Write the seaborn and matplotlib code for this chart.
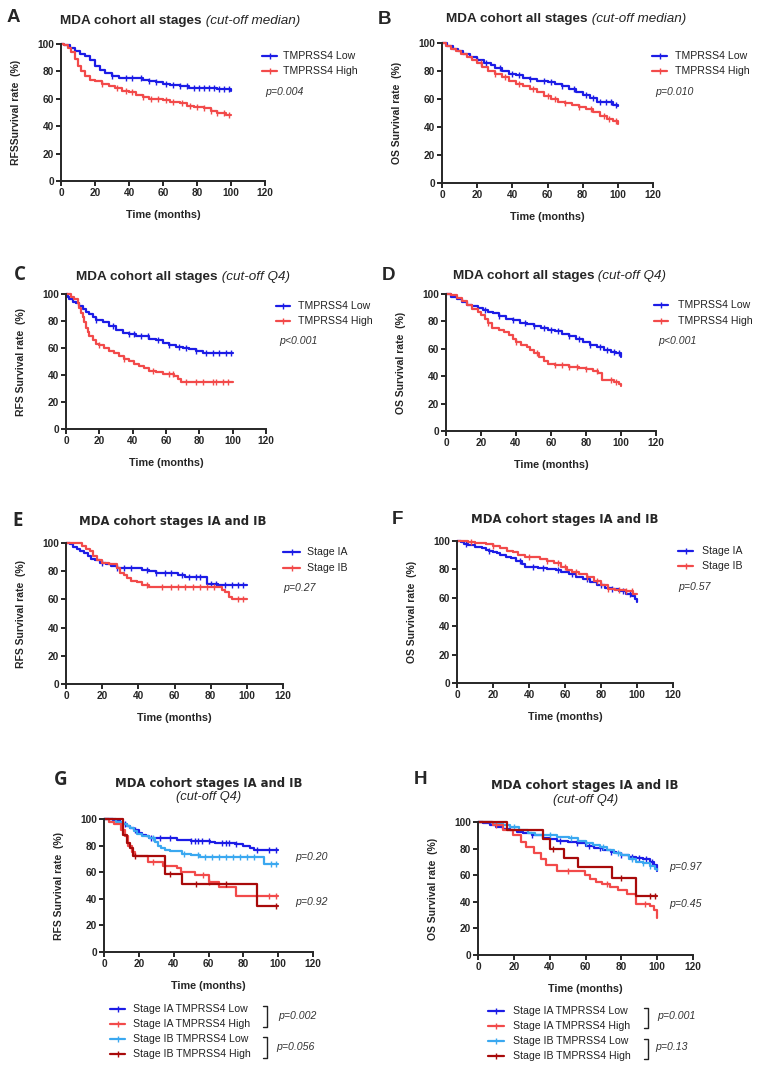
import numpy as np
import matplotlib
matplotlib.use('Agg')
import matplotlib.pyplot as plt
import seaborn as sns
from matplotlib.lines import Line2D

sns.set_style('ticks')
plt.rcParams['font.family'] = ['Liberation Sans', 'DejaVu Sans']

W, H = 759, 1070
BLUE = '#1c1ce6'
RED = '#f24a4a'
LBLUE = '#3aa8f0'
DRED = '#a80a0a'

XTICKS = [0, 20, 40, 60, 80, 100, 120]
YTICKS = [0, 20, 40, 60, 80, 100]

# ---- A: RFS, all stages, cut-off median ----
A_low_t = [0, 2, 5, 8, 11, 14, 17, 20, 23, 26, 30, 34, 48, 52, 56, 60, 64, 70, 75, 90, 92, 100]
A_low_s = [100, 99, 97, 95, 93, 91, 88, 84, 81, 79, 77, 75, 74, 73, 72, 71, 70, 69, 68, 68, 67, 66]
A_low_c = [30, 38, 42, 47, 52, 56, 62, 66, 70, 74, 78, 81, 84, 87, 90, 93, 96, 99]
A_high_t = [0, 2, 4, 6, 8, 10, 12, 14, 17, 20, 24, 28, 32, 36, 40, 44, 48, 52, 60, 64, 70, 74, 78, 84, 88, 92, 97, 100]
A_high_s = [100, 99, 97, 94, 89, 84, 80, 77, 74, 73, 71, 69, 68, 66, 65, 63, 61, 60, 59, 58, 57, 55, 54, 53, 51, 50, 48, 48]
A_high_c = [24, 33, 38, 42, 48, 53, 57, 62, 66, 71, 76, 80, 84, 88, 92, 96, 99]

# ---- B: OS, all stages, cut-off median ----
B_low_t = [0, 3, 6, 9, 12, 16, 20, 24, 28, 30, 34, 38, 42, 46, 50, 54, 60, 64, 68, 72, 76, 80, 84, 88, 94, 97, 100]
B_low_s = [100, 98, 96, 94, 92, 90, 88, 86, 84, 82, 80, 78, 77, 75, 74, 73, 72, 71, 69, 67, 65, 63, 61, 58, 58, 56, 55]
B_low_c = [20, 25, 33, 40, 44, 50, 58, 62, 68, 75, 82, 86, 90, 93, 96, 99]
B_high_t = [0, 2, 5, 8, 11, 14, 17, 20, 23, 26, 30, 34, 38, 42, 46, 50, 54, 58, 62, 66, 70, 74, 78, 82, 86, 90, 94, 97, 100]
B_high_s = [100, 98, 96, 94, 92, 90, 88, 86, 83, 80, 78, 76, 73, 71, 69, 67, 65, 62, 60, 58, 57, 56, 54, 53, 51, 48, 46, 44, 42]
B_high_c = [22, 30, 36, 44, 52, 60, 64, 70, 78, 85, 92, 95, 99]

# ---- C: RFS, all stages, cut-off Q4 ----
C_low_t = [0, 1, 2, 4, 6, 8, 10, 12, 14, 16, 18, 22, 26, 30, 34, 38, 42, 50, 54, 58, 62, 66, 70, 74, 78, 82, 100]
C_low_s = [100, 98, 96, 94, 93, 91, 89, 87, 85, 83, 81, 79, 76, 73, 71, 70, 69, 67, 66, 64, 62, 61, 60, 59, 58, 56, 56]
C_low_c = [18, 28, 38, 41, 45, 49, 55, 62, 68, 72, 78, 84, 88, 92, 96, 99]
C_high_t = [0, 3, 5, 7, 8, 9, 10, 11, 12, 13, 14, 16, 18, 20, 23, 26, 29, 32, 35, 38, 41, 44, 47, 50, 54, 58, 65, 67, 69, 100]
C_high_s = [100, 98, 96, 93, 90, 86, 83, 79, 75, 72, 69, 66, 63, 62, 60, 58, 56, 54, 52, 50, 48, 47, 45, 43, 42, 41, 39, 37, 35, 35]
C_high_c = [20, 35, 52, 62, 64, 72, 78, 82, 88, 90, 94, 97]

# ---- D: OS, all stages, cut-off Q4 ----
D_low_t = [0, 3, 6, 9, 12, 15, 18, 21, 24, 27, 30, 34, 38, 42, 46, 50, 54, 58, 62, 66, 70, 74, 78, 82, 86, 90, 94, 97, 100]
D_low_s = [100, 98, 96, 94, 92, 91, 90, 88, 87, 86, 84, 82, 81, 79, 78, 77, 75, 74, 73, 71, 69, 67, 65, 63, 61, 59, 58, 57, 54]
D_low_c = [22, 30, 38, 45, 50, 56, 60, 64, 70, 76, 82, 88, 92, 96, 99]
D_high_t = [0, 3, 6, 9, 12, 15, 18, 20, 22, 24, 26, 30, 33, 36, 38, 40, 43, 46, 48, 50, 53, 56, 58, 62, 70, 76, 80, 84, 87, 89, 96, 99, 100]
D_high_s = [100, 99, 97, 95, 92, 89, 87, 85, 82, 79, 75, 74, 72, 70, 67, 65, 63, 61, 59, 57, 54, 51, 49, 48, 47, 46, 45, 44, 42, 37, 36, 34, 33]
D_high_c = [24, 40, 52, 62, 66, 70, 75, 80, 86, 94, 97]

# ---- E: RFS, stages IA and IB ----
E_ia_t = [0, 2, 4, 6, 8, 10, 12, 14, 16, 19, 22, 25, 28, 42, 46, 50, 62, 66, 78, 84, 100]
E_ia_s = [100, 99, 97, 96, 94, 93, 91, 89, 88, 86, 85, 84, 82, 81, 80, 79, 77, 76, 71, 70, 70]
E_ia_c = [20, 28, 32, 36, 45, 50, 55, 58, 64, 68, 72, 74, 80, 83, 88, 92, 95, 98]
E_ib_t = [0, 9, 11, 13, 15, 17, 20, 24, 28, 30, 32, 34, 36, 39, 42, 46, 55, 86, 88, 90, 92, 100]
E_ib_s = [100, 98, 96, 94, 91, 88, 86, 85, 82, 79, 77, 75, 73, 72, 70, 69, 68.5, 67, 65, 62, 60, 60]
E_ib_c = [45, 53, 58, 62, 66, 70, 74, 78, 82, 95, 98]

# ---- F: OS, stages IA and IB ----
F_ia_t = [0, 2, 4, 6, 8, 10, 12, 14, 16, 18, 20, 22, 24, 27, 30, 33, 36, 38, 45, 50, 55, 58, 62, 66, 70, 74, 78, 82, 86, 90, 94, 97, 99, 100]
F_ia_s = [100, 99, 98, 97.5, 97, 96, 95.5, 95, 94, 93, 92.5, 91.5, 90, 89, 88, 86, 84, 82, 81, 80, 79.5, 78, 77, 75, 73, 71, 69, 67, 66, 65, 63, 61, 59, 57]
F_ia_c = [5, 18, 35, 42, 48, 56, 64, 72, 80, 86, 92, 96]
F_ib_t = [0, 6, 10, 16, 20, 24, 28, 31, 34, 38, 46, 50, 54, 58, 61, 64, 68, 72, 76, 80, 84, 88, 94, 98, 100]
F_ib_s = [100, 99.5, 98.5, 98, 96.5, 95, 93, 92, 90, 88.5, 87.5, 86, 84.5, 82, 79.5, 78.5, 76.5, 74.5, 71.5, 69, 66.5, 65.5, 64.5, 63, 63]
F_ib_c = [8, 20, 40, 50, 56, 60, 66, 72, 78, 84, 90, 94, 97]

# ---- G: RFS, stages IA and IB, cut-off Q4 ----
G_ia_low_t = [0, 5, 9, 11, 13, 15, 17, 20, 22, 24, 26, 30, 42, 50, 61, 64, 75, 80, 84, 86, 100]
G_ia_low_s = [100, 99, 97, 96, 94.5, 93, 91.5, 89.5, 88, 87, 86, 85.5, 84, 83.5, 83, 82, 81, 79.5, 78, 76.5, 76.5]
G_ia_low_c = [12, 18, 27, 32, 38, 50, 52, 54, 56, 60, 68, 70, 72, 76, 88, 95, 99]
G_ia_high_t = [0, 3, 6, 10, 12, 14, 16, 18, 25, 34, 42, 44, 52, 60, 66, 76, 100]
G_ia_high_s = [100, 98, 96.5, 92, 87, 80, 75, 72.5, 68, 65, 63, 60, 58, 53, 49, 42, 42]
G_ia_high_c = [28, 57, 60, 95, 99]
G_ib_low_t = [0, 7, 11, 13, 15, 17, 19, 22, 26, 29, 31, 33, 35, 38, 45, 50, 55, 92, 100]
G_ib_low_s = [100, 98, 96.5, 95, 93, 91, 89, 87.5, 86, 83, 80, 78, 77, 76, 74, 73, 71.5, 66, 66]
G_ib_low_c = [28, 46, 54, 58, 62, 66, 70, 74, 78, 82, 86, 96, 99]
G_ib_high_t = [0, 11, 13, 15, 16.5, 35, 45, 88, 100]
G_ib_high_s = [100, 88, 82, 78, 72.5, 59, 51, 34.5, 34.5]
G_ib_high_c = [18, 38, 53, 70, 99]

# ---- H: OS, stages IA and IB, cut-off Q4 ----
H_ia_low_t = [0, 3, 6.5, 10, 14, 18, 22, 25, 30, 36, 40, 44, 50, 55, 60, 65, 70, 74, 77, 80, 84, 88, 92, 96, 98, 100]
H_ia_low_s = [100, 99, 98, 96.5, 95, 94, 92.5, 91.5, 90, 88, 87, 85.5, 85, 84, 82, 80.5, 79, 77.5, 76.5, 75.5, 74, 73, 72, 70, 68, 63]
H_ia_low_c = [30, 46, 55, 62, 68, 74, 80, 86, 90, 94, 97]
H_ia_high_t = [0, 8.5, 14, 19.5, 24, 27, 31, 35, 38, 44, 59.5, 62.5, 66, 69, 73.5, 78, 83, 88, 96, 98, 100]
H_ia_high_s = [100, 98, 94, 90.5, 85, 81.5, 76.5, 72, 67.5, 63, 60, 57.5, 55, 53.5, 51, 48.5, 46, 38.5, 37, 33.5, 28]
H_ia_high_c = [10, 50, 72, 93]
H_ib_low_t = [0, 8, 14, 18, 23, 28, 32, 38, 44, 51, 56, 60, 64, 68, 72, 76, 80, 84, 88, 92, 96, 99, 100]
H_ib_low_s = [100, 99, 98, 96, 94, 92, 90.5, 90, 89, 88, 86, 84, 83, 81, 79, 77, 75, 72, 70, 69, 67, 65, 64]
H_ib_low_c = [20, 40, 52, 60, 70, 78, 86, 92, 96]
H_ib_high_t = [0, 16, 36, 40, 48, 56, 75, 88, 100]
H_ib_high_s = [100, 94, 87, 80, 73, 66, 58, 44, 44]
H_ib_high_c = [42, 80, 96, 99]

fig = plt.figure(figsize=(W / 100, H / 100), dpi=100)


def fx(x):
    return x / W


def fy(y):
    return 1 - y / H


def make_ax(l, r, t, b, ylabel):
    ax = fig.add_axes([l / W, 1 - b / H, (r - l) / W, (b - t) / H])
    ax.set_xlim(0, 120)
    ax.set_ylim(0, 100)
    ax.set_xticks(XTICKS, labels=[str(v) for v in XTICKS], fontweight='bold', fontsize=7.3)
    ax.set_yticks(YTICKS, labels=[str(v) for v in YTICKS], fontweight='bold', fontsize=7.3)
    sns.despine(ax=ax)
    for sp in ['left', 'bottom']:
        ax.spines[sp].set_linewidth(1.4)
    ax.tick_params(direction='out', length=3.5, width=1.4, pad=1.5)
    ax.set_xlabel('Time (months)', fontsize=7.8, fontweight='bold')
    ax.set_ylabel(ylabel, fontsize=7.5, fontweight='bold')
    ax.yaxis.set_label_coords(-40 / (r - l), 0.5)
    ax.xaxis.set_label_coords(0.5, -29 / (b - t))
    return ax


def km(ax, t, s, c, color):
    sns.lineplot(x=t, y=s, ax=ax, color=color, lw=1.6, drawstyle='steps-post',
                 estimator=None, clip_on=False)
    idx = np.searchsorted(t, c, side='right') - 1
    ax.plot(c, np.asarray(s)[idx], ls='none', marker='|', ms=3.8, mew=1.0,
            color=color, clip_on=False)


def legend_rows(x0, x1, xt, ys, labels, colors):
    for y, lab, col in zip(ys, labels, colors):
        fig.add_artist(Line2D([fx(x0), fx(x1)], [fy(y), fy(y)], color=col, lw=1.6))
        fig.add_artist(Line2D([fx((x0 + x1) / 2)], [fy(y)], color=col, marker='|',
                              ms=3.8, mew=1.0, ls='none'))
        fig.text(fx(xt), fy(y), lab, fontsize=7.6, va='center', ha='left', color='#222222')


def ptext(x, y, s):
    fig.text(fx(x), fy(y), s, fontsize=7.6, style='italic', va='center', ha='left', color='#333333')


def title2(ax, x, y, bold, ital):
    t1 = fig.text(fx(x), fy(y), bold, fontsize=9.7, fontweight='bold', va='center', ha='left')
    ax.annotate(' ' + ital, xy=(1, 0), xycoords=t1, va='bottom', ha='left',
                fontsize=9.7, style='italic', annotation_clip=False)


def letter(x, y, s, family=None):
    kw = {}
    if family:
        kw['family'] = family
    fig.text(fx(x), fy(y), s, fontsize=13.5, fontweight='bold', va='center', ha='left', **kw)


def title_stage(x, y):
    fig.text(fx(x), fy(y), 'MDA cohort stages IA and IB', family='DejaVu Sans',
             fontsize=8.4, fontweight='bold', ha='center', va='center')


TL = ['TMPRSS4 Low', 'TMPRSS4 High']
ST = ['Stage IA', 'Stage IB']
GL = ['Stage IA TMPRSS4 Low', 'Stage IA TMPRSS4 High', 'Stage IB TMPRSS4 Low', 'Stage IB TMPRSS4 High']

# A
ax = make_ax(61, 265, 44, 181, 'RFSSurvival rate  (%)')
km(ax, A_low_t, A_low_s, A_low_c, BLUE)
km(ax, A_high_t, A_high_s, A_high_c, RED)
title2(ax, 60, 21, 'MDA cohort all stages', '(cut-off median)')
letter(7, 17, 'A')
legend_rows(262, 277, 283, [56, 71], TL, [BLUE, RED])
ptext(265, 92, 'p=0.004')

# B
ax = make_ax(442, 653, 43, 183, 'OS Survival rate  (%)')
km(ax, B_low_t, B_low_s, B_low_c, BLUE)
km(ax, B_high_t, B_high_s, B_high_c, RED)
title2(ax, 446, 19, 'MDA cohort all stages', '(cut-off median)')
letter(378, 19, 'B')
legend_rows(652, 667, 675, [56, 71], TL, [BLUE, RED])
ptext(655, 92, 'p=0.010')

# C
ax = make_ax(66, 266, 294, 429, 'RFS Survival rate  (%)')
km(ax, C_low_t, C_low_s, C_low_c, BLUE)
km(ax, C_high_t, C_high_s, C_high_c, RED)
title2(ax, 76, 277, 'MDA cohort all stages', '(cut-off Q4)')
letter(14, 275, 'C', 'Open Sans')
legend_rows(276, 290, 298, [306, 321], TL, [BLUE, RED])
ptext(279, 341, 'p<0.001')

# D
ax = make_ax(446, 656, 294, 431, 'OS Survival rate  (%)')
km(ax, D_low_t, D_low_s, D_low_c, BLUE)
km(ax, D_high_t, D_high_s, D_high_c, RED)
title2(ax, 453, 276, 'MDA cohort all stages', '(cut-off Q4)')
letter(382, 275, 'D')
legend_rows(654, 668, 678, [305, 321], TL, [BLUE, RED])
ptext(658, 341, 'p<0.001')

# E
ax = make_ax(66, 283, 543, 684, 'RFS Survival rate  (%)')
km(ax, E_ia_t, E_ia_s, E_ia_c, BLUE)
km(ax, E_ib_t, E_ib_s, E_ib_c, RED)
title_stage(173, 521)
letter(12, 521, 'E', 'Open Sans')
legend_rows(283, 300, 307, [552, 568], ST, [BLUE, RED])
ptext(283, 588, 'p=0.27')

# F
ax = make_ax(457, 673, 541, 683, 'OS Survival rate  (%)')
km(ax, F_ia_t, F_ia_s, F_ia_c, BLUE)
km(ax, F_ib_t, F_ib_s, F_ib_c, RED)
title_stage(565, 519)
letter(392, 519, 'F')
legend_rows(678, 693, 702, [551, 566], ST, [BLUE, RED])
ptext(678, 587, 'p=0.57')

# G
ax = make_ax(104, 313, 819, 952, 'RFS Survival rate  (%)')
km(ax, G_ia_low_t, G_ia_low_s, G_ia_low_c, BLUE)
km(ax, G_ib_low_t, G_ib_low_s, G_ib_low_c, LBLUE)
km(ax, G_ia_high_t, G_ia_high_s, G_ia_high_c, RED)
km(ax, G_ib_high_t, G_ib_high_s, G_ib_high_c, DRED)
title_stage(209, 783)
fig.text(fx(209), fy(797), '(cut-off Q4)', fontsize=9.3, style='italic', ha='center', va='center')
letter(54, 780, 'G', 'Open Sans')
ptext(295, 857, 'p=0.20')
ptext(295, 902, 'p=0.92')
legend_rows(110, 125, 133, [1009, 1024, 1039, 1054], GL, [BLUE, RED, LBLUE, DRED])

# H
ax = make_ax(478, 693, 822, 955, 'OS Survival rate  (%)')
km(ax, H_ia_low_t, H_ia_low_s, H_ia_low_c, BLUE)
km(ax, H_ib_low_t, H_ib_low_s, H_ib_low_c, LBLUE)
km(ax, H_ia_high_t, H_ia_high_s, H_ia_high_c, RED)
km(ax, H_ib_high_t, H_ib_high_s, H_ib_high_c, DRED)
title_stage(585, 786)
fig.text(fx(586), fy(800), '(cut-off Q4)', fontsize=9.3, style='italic', ha='center', va='center')
letter(414, 780, 'H')
ptext(669, 867, 'p=0.97')
ptext(669, 904, 'p=0.45')
legend_rows(488, 504, 513, [1011, 1026, 1041, 1056], GL, [BLUE, RED, LBLUE, DRED])


def bracket(x, y0, y1):
    fig.add_artist(Line2D([fx(x - 4), fx(x), fx(x), fx(x - 4)],
                          [fy(y0), fy(y0), fy(y1), fy(y1)], color='#222222', lw=1.0))


bracket(267, 1006, 1027)
bracket(267, 1037, 1058)
ptext(278, 1016, 'p=0.002')
ptext(276, 1047, 'p=0.056')
bracket(648, 1008, 1028)
bracket(648, 1039, 1059)
ptext(657, 1016, 'p=0.001')
ptext(655, 1047, 'p=0.13')

fig.savefig('out.png', dpi=100)
